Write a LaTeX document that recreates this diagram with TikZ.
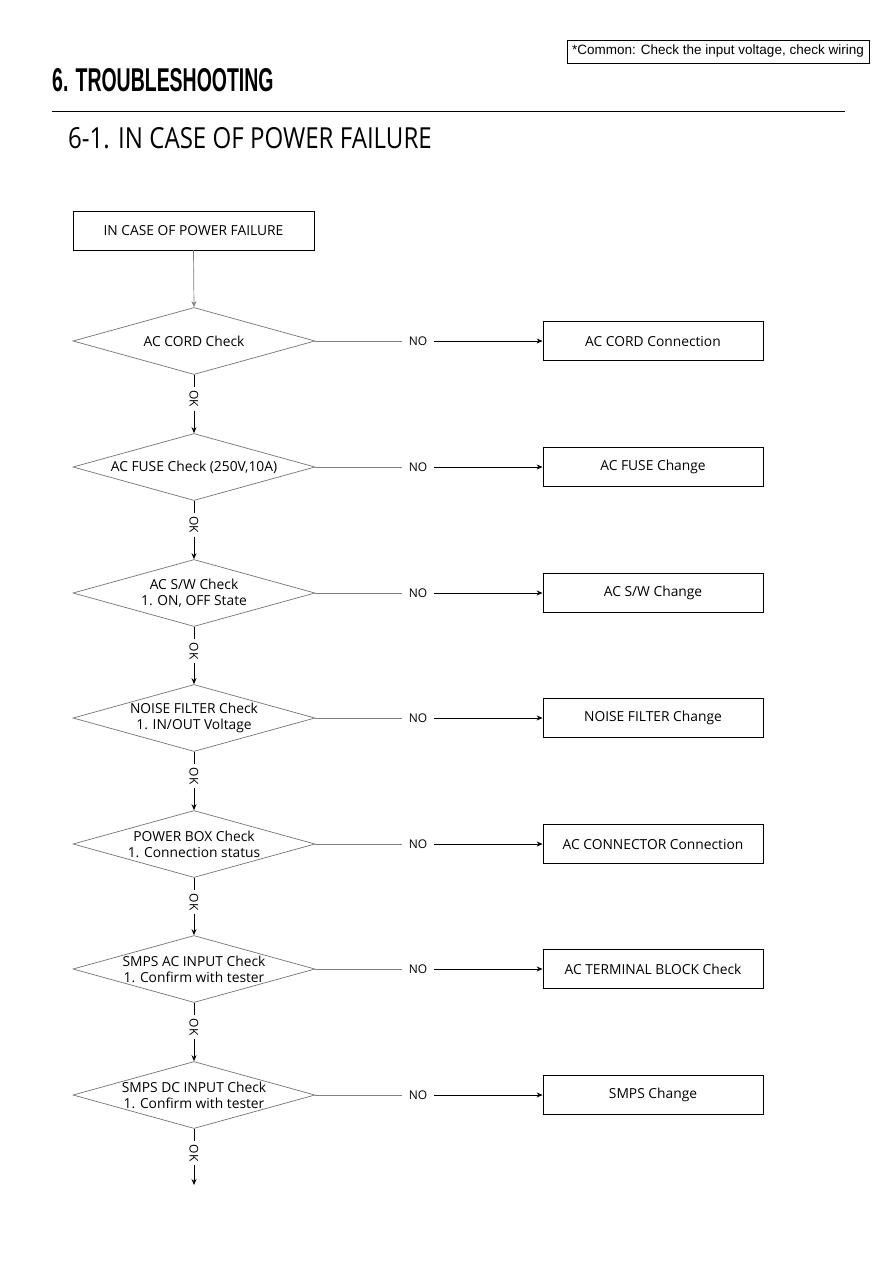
\documentclass[tikz,border=0pt]{standalone}
\usepackage{fontspec}
\setmainfont{Open Sans}
\newfontfamily\arialfont{Liberation Sans}
\newfontfamily\titlefont{Liberation Sans}[FakeStretch=0.59]
\newfontfamily\subfont{Open Sans}[FakeStretch=0.83]
\usetikzlibrary{shapes.geometric,arrows.meta}
\tikzset{
  x=1pt,y=-1pt,
  arr/.style={-{Stealth[length=6pt,width=5pt]}},
  flowtext/.style={font=\fontsize{13.8}{16}\selectfont},
  startbox/.style={draw=black,line width=0.8pt,minimum width=241pt,minimum height=39pt,inner sep=0pt,flowtext},
  resbox/.style={draw=black,line width=0.8pt,minimum width=220pt,minimum height=39pt,inner sep=0pt,flowtext},
  check/.style={diamond,draw=black!55,line width=0.7pt,minimum width=242pt,minimum height=67pt,inner sep=0pt},
  checklabel/.style={align=center,flowtext},
  nolabel/.style={inner sep=7pt,font=\fontsize{12}{14}\selectfont},
  oklabel/.style={inner sep=3pt,rotate=-90,font=\fontsize{12}{14}\selectfont},
  grayline/.style={draw=black!50,line width=0.7pt},
  blackline/.style={draw=black,line width=0.8pt},
}
\begin{document}
\begin{tikzpicture}
\useasboundingbox (0,0) rectangle (893,1263);
% header
\node[draw=black,line width=0.8pt,minimum width=302pt,minimum height=23pt,inner sep=0pt,font=\arialfont\fontsize{13.5}{15}\selectfont] (common) at (718,51.5) {*Common: Check the input voltage, check wiring};
\node[anchor=base west,inner sep=0pt,font=\titlefont\bfseries\fontsize{33}{36}\selectfont] (title) at (52,92) {6. TROUBLESHOOTING};
\coordinate (ruleL) at (52,111);
\coordinate (ruleR) at (845,111);
\draw[blackline] (ruleL) -- (ruleR);
\node[anchor=base west,inner sep=0pt,font=\subfont\fontsize{29}{32}\selectfont] (sub) at (68,148) {6-1. IN CASE OF POWER FAILURE};
% start
\node[startbox] (start) at (193.5,230.5) {IN CASE OF POWER FAILURE};
% checks
\foreach \i/\y/\dtext/\btext in {
  1/341/{AC CORD Check}/{AC CORD Connection},
  2/467/{AC FUSE Check (250V,10A)}/{AC FUSE Change},
  3/593/{AC S/W Check\\1. ON, OFF State}/{AC S/W Change},
  4/718/{NOISE FILTER Check\\1. IN/OUT Voltage}/{NOISE FILTER Change},
  5/844/{POWER BOX Check\\1. Connection status}/{AC CONNECTOR Connection},
  6/969/{SMPS AC INPUT Check\\1. Confirm with tester}/{AC TERMINAL BLOCK Check},
  7/1095/{SMPS DC INPUT Check\\1. Confirm with tester}/{SMPS Change}}{
  \node[check] (d\i) at (194,\y) {};
  \node[checklabel] (t\i) at (194,\y) {\dtext};
  \node[resbox] (b\i) at (653,\y) {\btext};
  \node[nolabel] (no\i) at (418,\y) {NO};
  \draw[grayline] (d\i.east) -- (no\i.west);
  \draw[blackline,arr] (no\i.east) -- (b\i.west);
  \node[oklabel] (ok\i) at (194,\y+58) {OK};
  \draw[blackline] (d\i.south) -- (ok\i.west);
}
\draw[grayline,arr] (start.south) -- (d1.north);
\foreach \i/\j in {1/2,2/3,3/4,4/5,5/6,6/7}{
  \draw[blackline,arr] (ok\i.east) -- (d\j.north);
}
\coordinate (end) at (194,1185);
\draw[blackline,arr] (ok7.east) -- (end);
\end{tikzpicture}
\end{document}
